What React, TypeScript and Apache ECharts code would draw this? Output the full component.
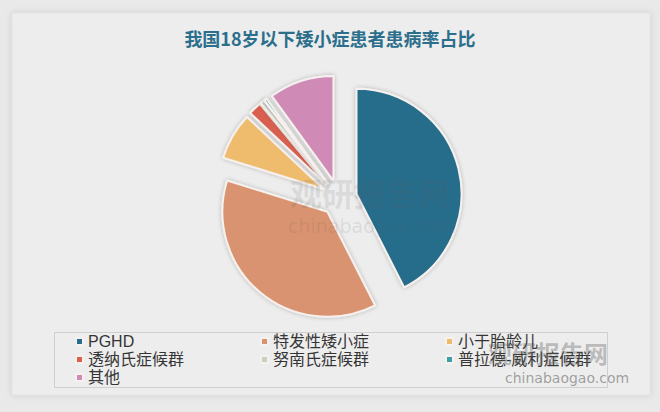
import React, { useEffect, useRef } from "react";
import * as echarts from "echarts";

const titleText = "我国18岁以下矮小症患者患病率占比";
const categories = ["PGHD", "特发性矮小症", "小于胎龄儿", "透纳氏症候群", "努南氏症候群", "普拉德-威利症候群", "其他"];
const shares = [42.5, 37.3, 7.2, 2.0, 0.6, 0.4, 10.0];
const colors = ["#256d8c", "#d9936f", "#efbb6c", "#d9604f", "#c5d2c0", "#3aa0ad", "#cf8bb6"];

export default function App() {
  const ref = useRef<HTMLDivElement>(null);
  useEffect(() => {
    document.body.style.margin = "0";
    const chart = echarts.init(ref.current!, null, { renderer: "svg" });
    chart.setOption({
      animation: false,
      backgroundColor: "#e9e9e9",
      color: colors,
      title: {
        text: titleText,
        left: "center",
        top: 24,
        textStyle: {
          color: "#2b6f8c",
          fontSize: 18,
          fontWeight: "bold",
          fontFamily: "Noto Sans CJK SC",
        },
      },
      graphic: [
        {
          type: "rect",
          z: -10,
          shape: { x: 12, y: 13, width: 638, height: 382 },
          style: {
            fill: "#ededed",
            stroke: "#e2e2e2",
            lineWidth: 1,
            shadowBlur: 6,
            shadowColor: "rgba(0,0,0,0.12)",
          },
        },
        {
          type: "rect",
          z: -5,
          shape: { x: 54.5, y: 332.5, width: 553, height: 55 },
          style: { fill: "rgba(0,0,0,0)", stroke: "#cfcfcf", lineWidth: 1 },
        },
        {
          type: "text",
          z: 100,
          left: 290,
          top: 176,
          style: {
            text: "观研报告网",
            fontSize: 32,
            fontWeight: "bold",
            fontFamily: "Noto Sans CJK SC",
            fill: "rgba(90,90,90,0.13)",
          },
        },
        {
          type: "text",
          z: 100,
          left: 288,
          top: 216,
          style: {
            text: "chinabaogao.com",
            fontSize: 19,
            fontFamily: "DejaVu Sans",
            fill: "rgba(90,90,90,0.13)",
          },
        },
        {
          type: "text",
          z: 100,
          left: 488,
          top: 340,
          style: {
            text: "观研报告网",
            fontSize: 24,
            fontWeight: "bold",
            fontFamily: "Noto Sans CJK SC",
            fill: "rgba(90,90,90,0.35)",
          },
        },
        {
          type: "text",
          z: 100,
          left: 505,
          top: 371,
          style: {
            text: "chinabaogao.com",
            fontSize: 14,
            fontFamily: "DejaVu Sans",
            fill: "rgba(90,90,90,0.55)",
          },
        },
      ],
      legend: {
        left: 75,
        top: 333,
        width: 560,
        orient: "horizontal",
        icon: "rect",
        itemWidth: 7,
        itemHeight: 7,
        itemGap: 1,
        selectedMode: false,
        padding: 0,
        data: categories,
        textStyle: {
          color: "#353535",
          fontSize: 16,
          lineHeight: 17,
          width: 171,
          fontFamily: "Liberation Sans, Noto Sans CJK SC",
        },
      },
      series: [
        {
          type: "pie",
          center: [339, 198],
          radius: 105,
          startAngle: 90,
          clockwise: true,
          selectedMode: "multiple",
          selectedOffset: 18,
          label: { show: false },
          labelLine: { show: false },
          emphasis: { disabled: true },
          itemStyle: {
            borderColor: "#f6f1ee",
            borderWidth: 2,
            shadowBlur: 4,
            shadowColor: "rgba(0,0,0,0.25)",
          },
          select: {
            itemStyle: {
              borderColor: "#f6f1ee",
              borderWidth: 2,
            },
          },
          data: categories.map((name, i) => ({ name, value: shares[i], selected: true })),
        },
      ],
    });
    return () => chart.dispose();
  }, []);
  return <div ref={ref} style={{ width: 660, height: 412 }} />;
}
